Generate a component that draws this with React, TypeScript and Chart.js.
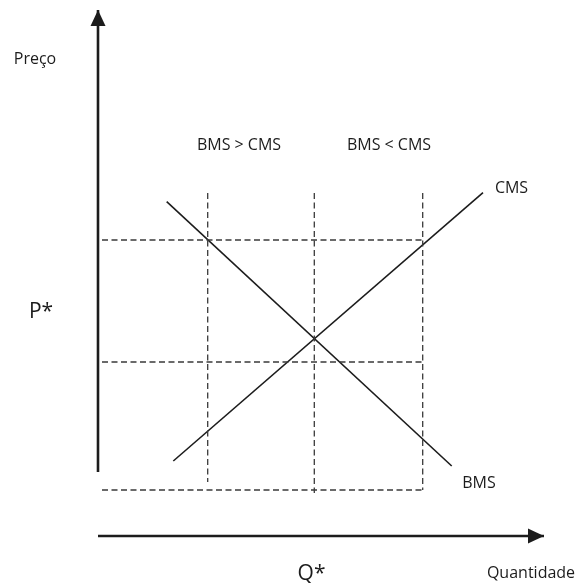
import React, { useEffect, useRef } from "react";
import { Chart, registerables } from "chart.js";

Chart.register(...registerables);

// Scale range (data units: 1 unit of quantity / price)
const X_MIN = -9.8;
const X_MAX = 48.4;
const Y_MIN = -4.7;
const Y_MAX = 53.6;

// Axes (start point and arrow tip)
const priceAxisQ = [0, 0];
const priceAxisP = [6.4, 52.6];
const qtyAxisQ = [0, 44.6];
const qtyAxisP = [0, 0];

// Curves
const bmsQ = [6.87, 35.37];
const bmsP = [33.43, 7.0];
const cmsQ = [7.53, 38.5];
const cmsP = [7.5, 34.33];

// Dashed guide lines
const guideQ = [10.97, 21.63, 32.47];
const guideTop = [34.3, 34.3, 34.3];
const guideBottom = [5.4, 4.3, 4.6];
const guideP = [29.6, 17.4, 4.6];
const guideLeft = [0.4, 0.4, 0.4];
const guideRight = [32.47, 32.47, 32.47];

// Text labels
const labelTexts = ["Preço", "BMS > CMS", "BMS < CMS", "CMS", "P*", "BMS", "Q*", "Quantidade"];
const labelQ = [-6.3, 14.1, 29.1, 41.35, -5.7, 38.1, 21.35, 43.3];
const labelP = [47.7, 39.1, 39.1, 34.8, 22.4, 5.3, -3.8, -3.7];
const labelBig = [false, false, false, false, true, false, true, false];

const INK = "#1c1c1c";
const DASH = "#3a3a3a";
const FONT = "'Open Sans', 'Noto Sans', sans-serif";

const arrowPlugin = {
  id: "arrowHeads",
  afterDatasetsDraw(chart: any) {
    const { ctx } = chart;
    const xs = chart.scales.x;
    const ys = chart.scales.y;
    chart.data.datasets.forEach((ds: any) => {
      if (!ds.arrow) return;
      const pts = ds.data;
      const a = pts[pts.length - 2];
      const b = pts[pts.length - 1];
      const ax = xs.getPixelForValue(a.x);
      const ay = ys.getPixelForValue(a.y);
      const bx = xs.getPixelForValue(b.x);
      const by = ys.getPixelForValue(b.y);
      const ang = Math.atan2(by - ay, bx - ax);
      const len = 16;
      const half = 7.5;
      ctx.save();
      ctx.fillStyle = INK;
      ctx.beginPath();
      ctx.moveTo(bx, by);
      const baseX = bx - Math.cos(ang) * len;
      const baseY = by - Math.sin(ang) * len;
      ctx.lineTo(baseX - Math.sin(ang) * half, baseY + Math.cos(ang) * half);
      ctx.lineTo(baseX + Math.sin(ang) * half, baseY - Math.cos(ang) * half);
      ctx.closePath();
      ctx.fill();
      ctx.restore();
    });
  },
};

const labelPlugin = {
  id: "textLabels",
  afterDraw(chart: any) {
    const { ctx } = chart;
    const xs = chart.scales.x;
    const ys = chart.scales.y;
    ctx.save();
    ctx.fillStyle = INK;
    ctx.textAlign = "center";
    ctx.textBaseline = "middle";
    labelTexts.forEach((t, i) => {
      ctx.font = `${labelBig[i] ? 21 : 16}px ${FONT}`;
      ctx.fillText(t, xs.getPixelForValue(labelQ[i]), ys.getPixelForValue(labelP[i]));
    });
    ctx.restore();
  },
};

function seg(q: number[], p: number[]) {
  return q.map((x, i) => ({ x, y: p[i] }));
}

export default function App() {
  const ref = useRef<HTMLCanvasElement | null>(null);

  useEffect(() => {
    if (!ref.current) return;
    const datasets: any[] = [];
    guideQ.forEach((q, i) => {
      datasets.push({
        data: seg([q, q], [guideTop[i], guideBottom[i]]),
        borderColor: DASH,
        borderWidth: 1.3,
        borderDash: [6, 3.5],
      });
    });
    guideP.forEach((p, i) => {
      datasets.push({
        data: seg([guideLeft[i], guideRight[i]], [p, p]),
        borderColor: DASH,
        borderWidth: 1.3,
        borderDash: [6, 3.5],
      });
    });
    datasets.push({ data: seg(bmsQ, bmsP), borderColor: INK, borderWidth: 1.6 });
    datasets.push({ data: seg(cmsQ, cmsP), borderColor: INK, borderWidth: 1.6 });
    datasets.push({ data: seg(priceAxisQ, priceAxisP), borderColor: INK, borderWidth: 2.6, arrow: true });
    datasets.push({ data: seg(qtyAxisQ, qtyAxisP), borderColor: INK, borderWidth: 2.6, arrow: true });
    datasets.forEach((d) => {
      d.showLine = true;
      d.pointRadius = 0;
      d.pointHoverRadius = 0;
      d.fill = false;
      d.tension = 0;
    });

    const chart = new Chart(ref.current, {
      type: "scatter",
      data: { datasets },
      options: {
        animation: false,
        responsive: true,
        maintainAspectRatio: false,
        layout: { padding: 0 },
        events: [],
        scales: {
          x: { type: "linear", display: false, min: X_MIN, max: X_MAX },
          y: { type: "linear", display: false, min: Y_MIN, max: Y_MAX },
        },
        plugins: {
          legend: { display: false },
          tooltip: { enabled: false },
        },
      },
      plugins: [arrowPlugin, labelPlugin],
    } as any);
    return () => chart.destroy();
  }, []);

  return (
    <div style={{ position: "absolute", left: 0, top: 0, width: 582, height: 583, background: "#fff" }}>
      <canvas ref={ref} />
    </div>
  );
}
